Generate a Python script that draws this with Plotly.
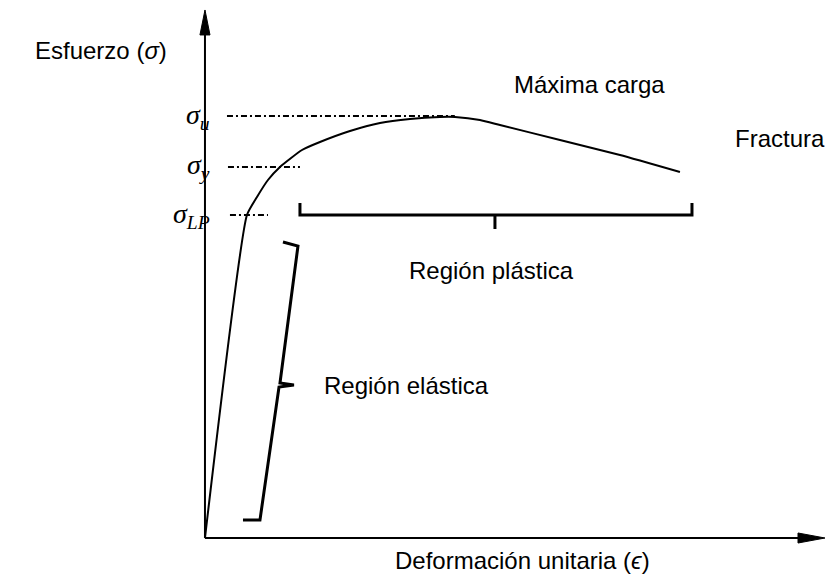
import plotly.graph_objects as go

# coordinate system: strain (epsilon) and stress (sigma) in arbitrary units, 0..100
X_MIN, X_MAX = -33.06, 101.94
Y_MIN, Y_MAX = -8.90, 101.89

# stress-strain curve
strain = [0, 6.77, 8.39, 10.16, 12.10, 15.65, 18.55, 23.39, 28.23, 33.06, 37.90, 40.32, 44.35, 47.58,
          57.26, 66.94, 76.61]
stress = [0, 61.17, 64.58, 67.80, 70.27, 73.48, 75.0, 77.08, 78.6, 79.36, 79.73, 79.73, 79.17, 78.22,
          75.38, 72.54, 69.32]

# characteristic stress levels and how far their dash-dot guides reach
sigma_labels = ["<i>σ<sub>u</sub></i>", "<i>σ<sub>y</sub></i>", "<i>σ<sub>LP</sub></i>"]
sigma_values = [79.9, 70.27, 61.17]
guide_start = [3.55, 3.71, 4.03]
guide_end = [40.3, 15.32, 10.16]

# braces marking the elastic and plastic regions
elastic_x = [12.58, 15.0, 12.10, 14.35, 11.94, 8.87, 6.13]
elastic_y = [56.06, 55.30, 29.36, 28.98, 28.60, 3.41, 3.41]
plastic_x = [15.32, 15.32, 46.77, 46.77, 46.77, 78.55, 78.55]
plastic_y = [63.45, 61.17, 61.17, 58.52, 61.17, 61.17, 63.45]

# axis extents
axis_end = 100
head_len_x, head_half_x = 4.35, 0.95
head_len_y, head_half_y = 4.73, 0.81

fig = go.Figure()

line = dict(color="black", width=2)

# axes
fig.add_trace(go.Scatter(x=[0, 0], y=[0, axis_end - head_len_y + 0.5], mode="lines", line=line))
fig.add_trace(go.Scatter(x=[0, axis_end - head_len_x + 0.5], y=[0, 0], mode="lines", line=line))
fig.add_trace(go.Scatter(
    x=[0, -head_half_y, head_half_y, 0], y=[axis_end, axis_end - head_len_y, axis_end - head_len_y, axis_end],
    mode="lines", fill="toself", fillcolor="black", line=dict(color="black", width=1)))
fig.add_trace(go.Scatter(
    x=[axis_end, axis_end - head_len_x, axis_end - head_len_x, axis_end], y=[0, head_half_x, -head_half_x, 0],
    mode="lines", fill="toself", fillcolor="black", line=dict(color="black", width=1)))

# curve
fig.add_trace(go.Scatter(x=strain, y=stress, mode="lines",
                         line=dict(color="black", width=2, shape="spline", smoothing=0.5)))

# dash-dot guides
for s, x0, x1 in zip(sigma_values, guide_start, guide_end):
    fig.add_trace(go.Scatter(x=[x0, x1], y=[s, s], mode="lines",
                             line=dict(color="black", width=2, dash="6px,3px,2px,3px")))

# braces
fig.add_trace(go.Scatter(x=elastic_x, y=elastic_y, mode="lines", line=dict(color="black", width=3)))
fig.add_trace(go.Scatter(x=plastic_x, y=plastic_y, mode="lines", line=dict(color="black", width=3)))

# sigma labels
for lab, s in zip(sigma_labels, sigma_values):
    fig.add_annotation(x=1.2, y=s, text=lab, showarrow=False, xanchor="right", yanchor="middle",
                       font=dict(family="Liberation Serif, Times New Roman", size=28, color="black"))

txt = dict(family="Liberation Sans, Arial", size=24, color="black")
fig.add_annotation(x=-27.74, y=92.42, text="Esfuerzo (<i>σ</i>)", showarrow=False,
                   xanchor="left", yanchor="middle", font=txt)
fig.add_annotation(x=62.1, y=85.98, text="Máxima carga", showarrow=False,
                   xanchor="center", yanchor="middle", font=txt)
fig.add_annotation(x=85.16, y=75.57, text="Fractura", showarrow=False,
                   xanchor="left", yanchor="middle", font=txt)
fig.add_annotation(x=46.29, y=50.57, text="Región plástica", showarrow=False,
                   xanchor="center", yanchor="middle", font=txt)
fig.add_annotation(x=18.87, y=28.79, text="Región elástica", showarrow=False,
                   xanchor="left", yanchor="middle", font=txt)
fig.add_annotation(x=51.2, y=-4.17, text="Deformación unitaria (<i>ϵ</i>)", showarrow=False,
                   xanchor="center", yanchor="middle", font=txt)

fig.update_layout(
    width=837,
    height=585,
    margin=dict(l=0, r=0, t=0, b=0),
    paper_bgcolor="white",
    plot_bgcolor="white",
    showlegend=False,
    xaxis=dict(range=[X_MIN, X_MAX], visible=False, fixedrange=True),
    yaxis=dict(range=[Y_MIN, Y_MAX], visible=False, fixedrange=True),
)

fig.write_html("out.html", config={"displayModeBar": False},
               post_script="document.body.style.margin='0';")
